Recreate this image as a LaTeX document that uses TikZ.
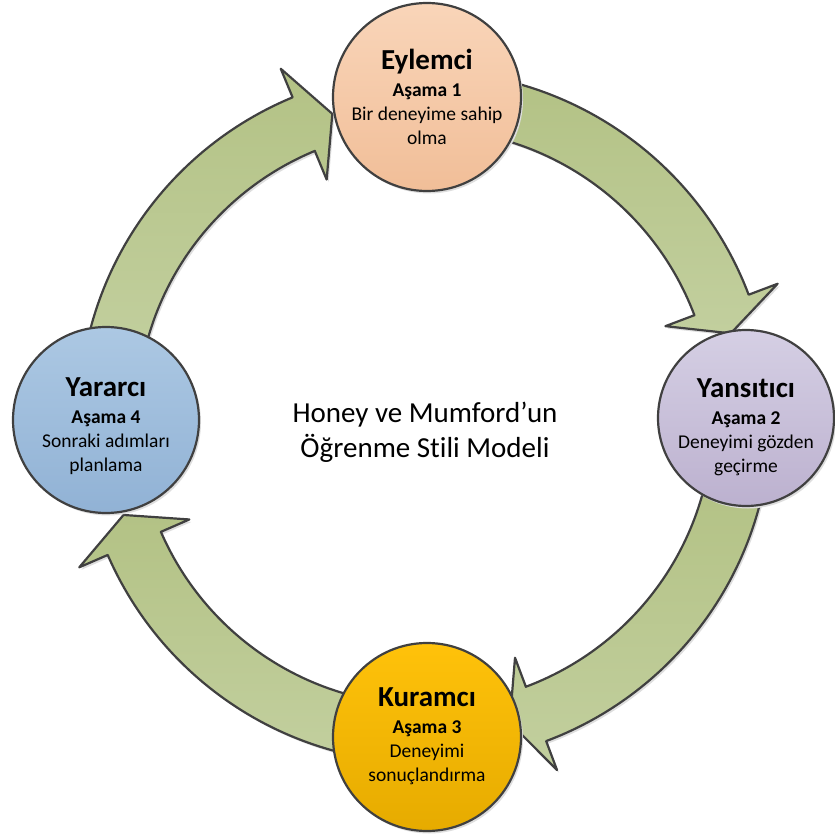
\documentclass[tikz,border=0pt]{standalone}
\usepackage{fontspec}
\setmainfont{Carlito}[Ligatures=NoCommon]
\definecolor{edgegray}{HTML}{404040}
\definecolor{arrowtop}{HTML}{B3C285}
\definecolor{arrowbot}{HTML}{C2CF9E}
\definecolor{peachtop}{HTML}{F9D5B9}
\definecolor{peachbot}{HTML}{F1BE98}
\definecolor{lilactop}{HTML}{D5CFE4}
\definecolor{lilacbot}{HTML}{BCB1CF}
\definecolor{goldtop}{HTML}{FFC20A}
\definecolor{goldbot}{HTML}{E6AB00}
\definecolor{bluetop}{HTML}{ACC8E3}
\definecolor{bluebot}{HTML}{91B2D5}
\begin{document}
\begin{tikzpicture}[x=1pt,y=1pt,
  outline/.style={draw=edgegray, line width=2.2pt, line join=round},
  cyclearrow/.style={outline, top color=arrowtop, bottom color=arrowbot},
  softshadow/.style={fill=black!13, draw=none},
  stagecircle/.style={circle, outline, inner sep=0pt, minimum size=#1},
  stagetext/.style={align=center, inner sep=0pt, font=\fontsize{19.5}{24}\selectfont},
]
\useasboundingbox (0,0) rectangle (835,-834);

% curved block arrows running clockwise round the cycle
\begin{scope}[shift={(425,-417)}]
  \foreach \a/\b/\t in {78/20.7/15.3, -12/-69.5/-74.5, -102/-156.5/-162, -192/-247.5/-253} {
    \fill[softshadow, shift={(2pt,-2.5pt)}]
      (\a:346pt) arc[start angle=\a, end angle=\b, radius=346pt]
      -- (\b:377pt) -- (\t:317pt) -- (\b:257pt) -- (\b:288pt)
      arc[start angle=\b, end angle=\a, radius=288pt] -- cycle;
    \path[cyclearrow]
      (\a:346pt) arc[start angle=\a, end angle=\b, radius=346pt]
      -- (\b:377pt) -- (\t:317pt) -- (\b:257pt) -- (\b:288pt)
      arc[start angle=\b, end angle=\a, radius=288pt] -- cycle;
  }
\end{scope}

% shadows under the stage circles
\fill[softshadow] (429,-99.5) circle[radius=94pt];
\fill[softshadow] (748,-420.5) circle[radius=88pt];
\fill[softshadow] (429,-739.5) circle[radius=94pt];
\fill[softshadow] (108,-422.5) circle[radius=93pt];

% stage circles
\node[stagecircle=188pt, top color=peachtop, bottom color=peachbot] (eylemci) at (427,-97) {};
\node[stagecircle=176pt, top color=lilactop, bottom color=lilacbot] (yansitici) at (746,-418) {};
\node[stagecircle=188pt, top color=goldtop, bottom color=goldbot] (kuramci) at (427,-737) {};
\node[stagecircle=186pt, top color=bluetop, bottom color=bluebot] (yararci) at (106,-420) {};

% stage labels
\node[stagetext] (eylemci-text) at (427,-97)
  {{\fontsize{29}{34}\selectfont\bfseries Eylemci}\\[3pt]\textbf{Aşama 1}\\Bir deneyime sahip\\olma};
\node[stagetext] (yansitici-text) at (746,-427)
  {{\fontsize{29}{34}\selectfont\bfseries Yansıtıcı}\\[3pt]\textbf{Aşama 2}\\Deneyimi gözden\\geçirme};
\node[stagetext] (kuramci-text) at (427,-736)
  {{\fontsize{29}{34}\selectfont\bfseries Kuramcı}\\[3pt]\textbf{Aşama 3}\\Deneyimi\\sonuçlandırma};
\node[stagetext] (yararci-text) at (106,-426)
  {{\fontsize{29}{34}\selectfont\bfseries Yararcı}\\[3pt]\textbf{Aşama 4}\\Sonraki adımları\\planlama};

% title in the middle of the cycle
\node[align=center, font=\fontsize{29}{35}\selectfont] (baslik) at (425,-432)
  {Honey ve Mumford’un\\Öğrenme Stili Modeli};
\end{tikzpicture}
\end{document}
